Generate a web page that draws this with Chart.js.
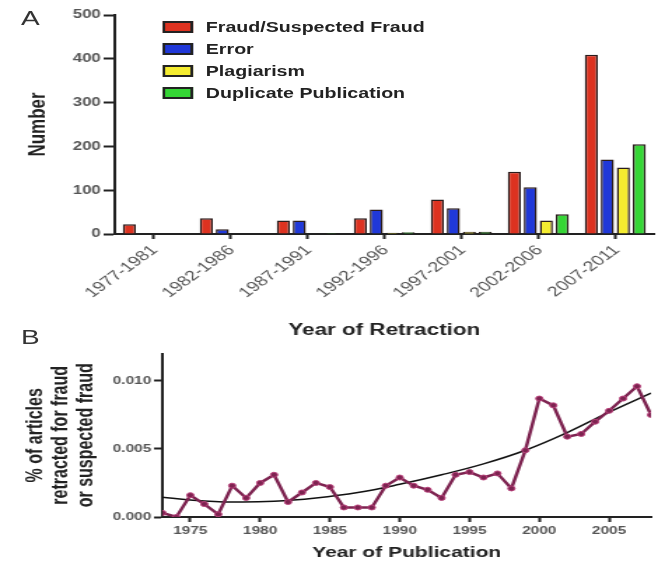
<!DOCTYPE html>
<html>
<head>
<meta charset="utf-8">
<script src="https://cdn.jsdelivr.net/npm/chart.js@4.4.1/dist/chart.umd.min.js"></script>
<style>
  html, body { margin: 0; padding: 0; background: #fff; }
  body { width: 658px; height: 563px; overflow: hidden; position: relative; }
  /* the reference figure is stretched sideways, so draw narrow and widen */
  #wrap { position: absolute; left: 0; top: 0; width: 470px; height: 563px;
          transform: scaleX(1.4); transform-origin: 0 0;
          font-family: 'Liberation Sans', Arial, sans-serif; }
  #chart-a { position: absolute; left: 0; top: 0; }
  #chart-b { position: absolute; left: 0; top: 345px; }
  .panel-letter { position: absolute; font-size: 20px; color: #333; line-height: 20px; }
  #legend { position: absolute; left: 116px; top: 16px; }
  .legend-row { display: flex; align-items: center; height: 22px; }
  .legend-box { box-sizing: border-box; width: 22px; height: 12px; border: 2px solid #222; margin-right: 9px; }
  .legend-text { font-weight: bold; font-size: 14px; color: #222; white-space: nowrap; }
</style>
</head>
<body>
<div id="wrap">
  <canvas id="chart-a" width="470" height="345"></canvas>
  <canvas id="chart-b" width="470" height="218"></canvas>
  <div class="panel-letter" style="left:15px; top:8px;">A</div>
  <div class="panel-letter" style="left:15px; top:327px;">B</div>
  <div id="legend"></div>
</div>
<script>
  // Panel A — retractions by reason, 5-year periods
  const retractionPeriods = ['1977-1981', '1982-1986', '1987-1991', '1992-1996', '1997-2001', '2002-2006', '2007-2011'];
  const fraudCounts = [22, 36, 31, 36, 79, 142, 409];
  const errorCounts = [0, 11, 31, 56, 59, 107, 170];
  const plagiarismCounts = [0, 0, 1, 3, 5, 31, 152];
  const duplicateCounts = [0, 0, 2, 4, 5, 45, 205];

  // Panel B — % of articles retracted for fraud, by publication year
  const pubYears = [1973, 1974, 1975, 1976, 1977, 1978, 1979, 1980, 1981, 1982, 1983, 1984,
    1985, 1986, 1987, 1988, 1989, 1990, 1991, 1992, 1993, 1994, 1995, 1996,
    1997, 1998, 1999, 2000, 2001, 2002, 2003, 2004, 2005, 2006, 2007, 2008];
  const fraudPct = [0.0003, 0.0000, 0.0016, 0.00095, 0.0002, 0.0023, 0.0014, 0.0025, 0.0031, 0.0011, 0.0018, 0.0025,
    0.0022, 0.0007, 0.0007, 0.0007, 0.0023, 0.0029, 0.0023, 0.0020, 0.0014, 0.0031, 0.0033, 0.0029,
    0.0032, 0.0021, 0.0049, 0.0087, 0.0082, 0.0059, 0.0061, 0.0070, 0.0078, 0.0087, 0.0096, 0.0075];
  // fitted trend curve, read at a few years
  const trendYears = [1973, 1975, 1978, 1981, 1984, 1987, 1990, 1993, 1996, 1999, 2002, 2005, 2008];
  const trendPct = [0.00145, 0.00125, 0.0011, 0.00115, 0.0014, 0.0018, 0.0024, 0.0031, 0.0039, 0.0049, 0.0062, 0.0077, 0.0091];

  const yearTicks = [1975, 1980, 1985, 1990, 1995, 2000, 2005];
  const pctTicks = [0, 0.005, 0.010];

  Chart.defaults.font.family = "'Liberation Sans', Arial, sans-serif";
  Chart.defaults.animation = false;

  const axisColor = '#222';
  const tickText = '#555';

  const seriesA = [
    { label: 'Fraud/Suspected Fraud', data: fraudCounts, color: '#dd3220' },
    { label: 'Error', data: errorCounts, color: '#2038d8' },
    { label: 'Plagiarism', data: plagiarismCounts, color: '#f4ec30' },
    { label: 'Duplicate Publication', data: duplicateCounts, color: '#35d635' }
  ];

  new Chart(document.getElementById('chart-a'), {
    type: 'bar',
    data: {
      labels: retractionPeriods,
      datasets: seriesA.map((s) => ({
        label: s.label,
        data: s.data,
        backgroundColor: s.color,
        borderColor: '#2a1c1c',
        borderWidth: 1.5,
        categoryPercentage: 0.83,
        barPercentage: 0.82
      }))
    },
    options: {
      responsive: false,
      layout: { padding: { top: 15, right: 3, left: 0, bottom: 0 } },
      plugins: { legend: { display: false }, tooltip: { enabled: false } },
      scales: {
        x: {
          grid: { drawOnChartArea: false, offset: false, tickLength: 5, tickWidth: 2, tickColor: axisColor },
          border: { color: axisColor, width: 2 },
          ticks: { autoSkip: false, minRotation: 45, maxRotation: 45, labelOffset: 1, padding: 3, color: tickText, font: { size: 14 } },
          title: { display: true, text: 'Year of Retraction', color: axisColor, font: { size: 16, weight: 'bold' }, padding: { top: 0, bottom: 5 } },
          afterFit: (scale) => { scale.height = 111; }
        },
        y: {
          min: 0,
          max: 500,
          grid: { drawOnChartArea: false, tickLength: 8, tickWidth: 2, tickColor: axisColor },
          border: { color: axisColor, width: 2 },
          ticks: { stepSize: 100, padding: 2, color: tickText, font: { size: 12, weight: 'bold' } },
          title: { display: true, text: 'Number', color: axisColor, font: { size: 17, weight: 'bold' }, padding: { top: 17, bottom: 0 } },
          afterFit: (scale) => { scale.width = 82; }
        }
      }
    }
  });

  // HTML legend built from the same series
  document.getElementById('legend').innerHTML = seriesA
    .map((s) => `
      <div class="legend-row">
        <span class="legend-box" style="background:${s.color}"></span>
        <span class="legend-text">${s.label}</span>
      </div>`)
    .join('');

  new Chart(document.getElementById('chart-b'), {
    type: 'line',
    data: {
      datasets: [
        {
          label: 'Fraud',
          data: pubYears.map((yr, i) => ({ x: yr, y: fraudPct[i] })),
          borderColor: '#7d2350',
          backgroundColor: '#7d2350',
          pointBackgroundColor: '#7d2350',
          pointBorderColor: '#b8407a',
          pointBorderWidth: 1,
          borderWidth: 2.5,
          pointRadius: 2.5,
          tension: 0
        },
        {
          label: 'Trend',
          data: trendYears.map((yr, i) => ({ x: yr, y: trendPct[i] })),
          borderColor: '#111',
          borderWidth: 1.5,
          pointRadius: 0,
          tension: 0.4
        }
      ]
    },
    options: {
      responsive: false,
      layout: { padding: { top: 8, right: 3.6, left: 0, bottom: 0 } },
      plugins: { legend: { display: false }, tooltip: { enabled: false } },
      scales: {
        x: {
          type: 'linear',
          min: 1973,
          max: 2008,
          afterBuildTicks: (scale) => { scale.ticks = yearTicks.map((v) => ({ value: v })); },
          grid: { drawOnChartArea: false, tickLength: 5, tickWidth: 2, tickColor: axisColor },
          border: { color: axisColor, width: 2 },
          ticks: { padding: 2, color: tickText, font: { size: 11, weight: 'bold' }, callback: (v) => String(v) },
          title: { display: true, text: 'Year of Publication', color: axisColor, font: { size: 15, weight: 'bold' }, padding: { top: 0, bottom: 1 } },
          afterFit: (scale) => { scale.height = 46; }
        },
        y: {
          min: 0,
          max: 0.012,
          afterBuildTicks: (scale) => { scale.ticks = pctTicks.map((v) => ({ value: v })); },
          grid: { drawOnChartArea: false, tickLength: 6, tickWidth: 2, tickColor: axisColor },
          border: { color: axisColor, width: 2 },
          ticks: { padding: 2, color: tickText, font: { size: 11, weight: 'bold' }, callback: (v) => Number(v).toFixed(3) },
          title: {
            display: true,
            text: ['% of articles', 'retracted for fraud', 'or suspected fraud'],
            color: axisColor,
            font: { size: 16, weight: 'bold', lineHeight: 1.125 },
            padding: { top: 17, bottom: 0 }
          },
          afterFit: (scale) => { scale.width = 116; }
        }
      }
    }
  });
</script>
</body>
</html>
